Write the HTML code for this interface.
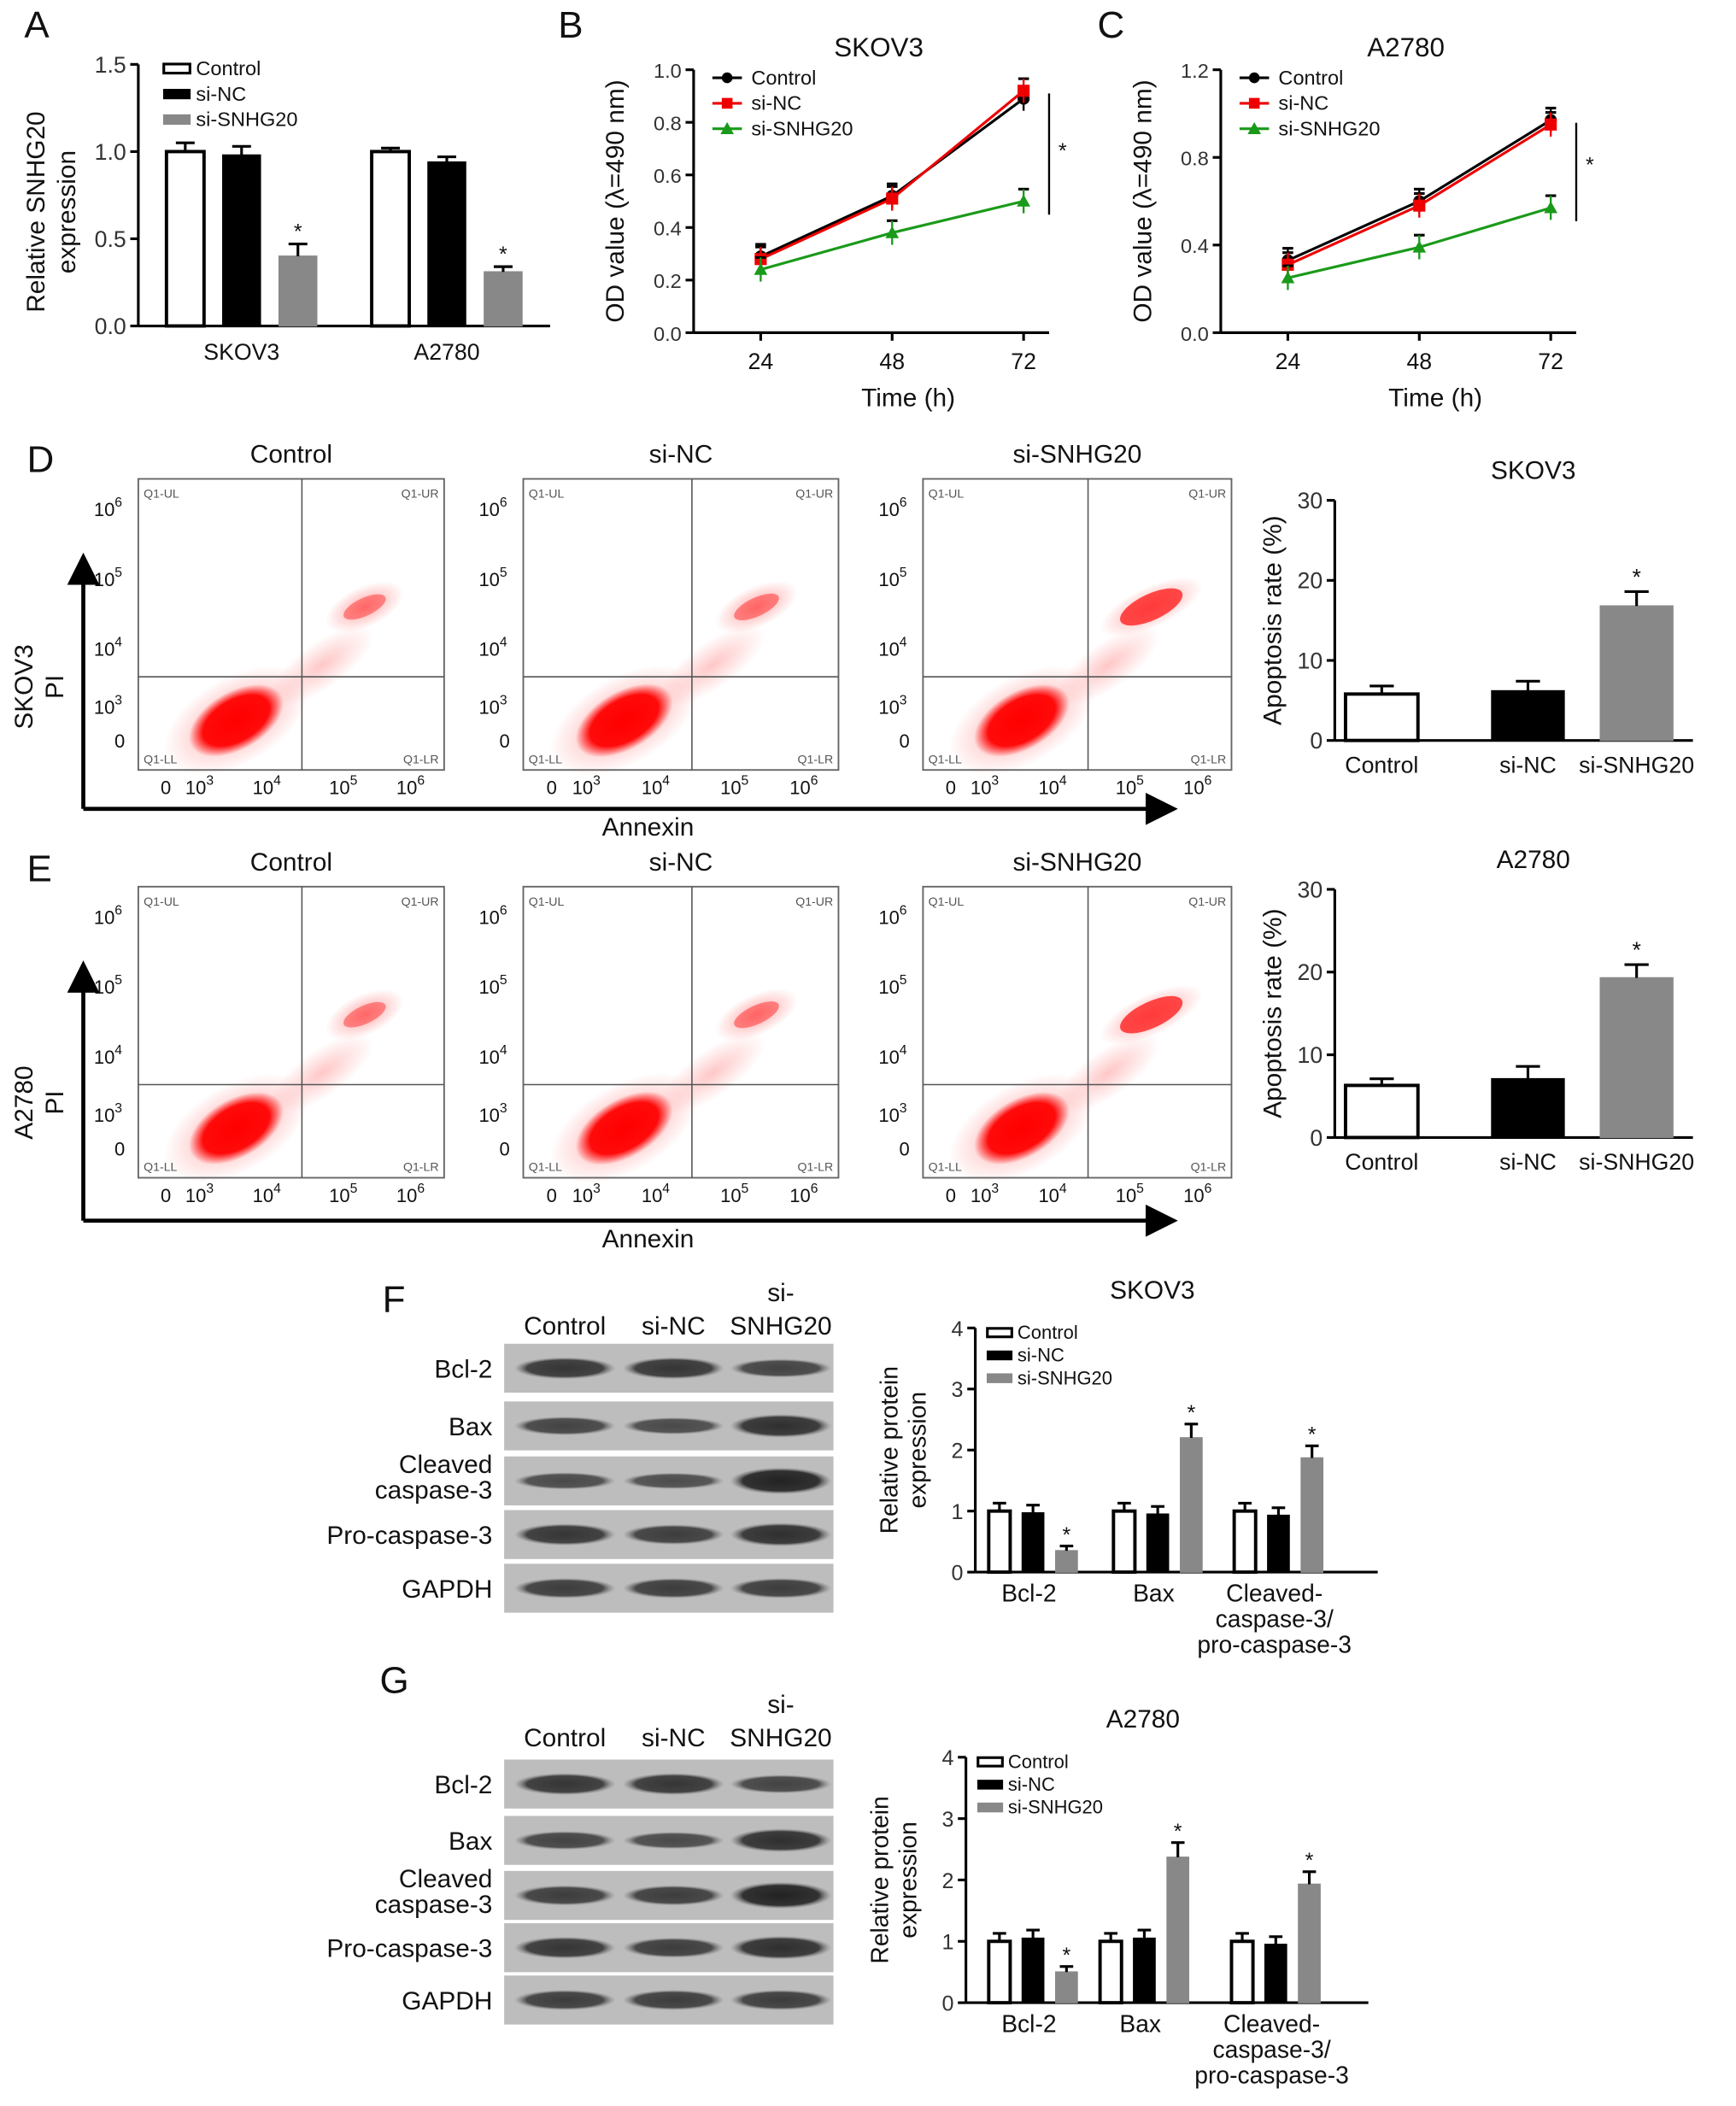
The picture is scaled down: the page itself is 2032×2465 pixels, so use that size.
<!DOCTYPE html>
<html><head><meta charset="utf-8"><style>
html,body{margin:0;padding:0;background:#fff;}
svg{display:block;font-family:"Liberation Sans",Arial,sans-serif;}
</style></head><body>
<svg id="fig" xmlns="http://www.w3.org/2000/svg" width="2032" height="2465" viewBox="0 0 1294 1570">
<defs>
<radialGradient id="blob" cx="50%" cy="50%" r="50%">
<stop offset="0%" stop-color="#ff0000" stop-opacity="1"/>
<stop offset="70%" stop-color="#ff0000" stop-opacity="0.95"/>
<stop offset="100%" stop-color="#ff0000" stop-opacity="0"/>
</radialGradient>
<radialGradient id="halo" cx="50%" cy="50%" r="50%">
<stop offset="0%" stop-color="#ff3030" stop-opacity="0.45"/>
<stop offset="100%" stop-color="#ff3030" stop-opacity="0"/>
</radialGradient>
<radialGradient id="band" cx="50%" cy="50%" r="50%">
<stop offset="0%" stop-color="#1a1a1a"/>
<stop offset="75%" stop-color="#2a2a2a"/>
<stop offset="100%" stop-color="#777" stop-opacity="0"/>
</radialGradient>
<marker id="arr" markerWidth="8" markerHeight="8" refX="6" refY="4" orient="auto"><path d="M0,0 L8,4 L0,8 z" fill="#000"/></marker>
</defs>
<g id="root"></g>
</svg>
<script>
// ---------- data ----------
const aGroups = ["SKOV3","A2780"];
const aControl = [1.0, 1.0];
const aSiNC = [0.98, 0.94];
const aSiSNHG = [0.40, 0.31];
const aErr = [[0.05,0.05,0.07],[0.02,0.03,0.03]];

const odTimes = [24,48,72];
const skovControl = [0.29,0.52,0.89];
const skovSiNC = [0.28,0.51,0.92];
const skovSi = [0.24,0.38,0.50];
const a27Control = [0.33,0.60,0.97];
const a27SiNC = [0.31,0.58,0.95];
const a27Si = [0.25,0.39,0.57];

const apopCats = ["Control","si-NC","si-SNHG20"];
const apopSkov = [5.8,6.2,16.8];
const apopSkovErr = [1.0,1.2,1.8];
const apopA27 = [6.3,7.1,19.3];
const apopA27Err = [0.8,1.5,1.6];

const protCats = ["Bcl-2","Bax","Cleaved-caspase-3/pro-caspase-3"];
const protSkovControl = [1.0,1.0,1.0];
const protSkovSiNC = [0.97,0.95,0.93];
const protSkovSi = [0.35,2.2,1.87];
const protA27Control = [1.0,1.0,1.0];
const protA27SiNC = [1.05,1.05,0.95];
const protA27Si = [0.5,2.37,1.93];

// ---------- helpers ----------
const NS="http://www.w3.org/2000/svg";
const root=document.getElementById('root');
function el(tag,attrs,parent,text){const e=document.createElementNS(NS,tag);for(const k in attrs)e.setAttribute(k,attrs[k]);if(text!==undefined)e.textContent=text;(parent||root).appendChild(e);return e;}
function txt(x,y,s,size,anchor,parent,extra){const t=el('text',Object.assign({x:x,y:y,'font-size':size,'text-anchor':anchor||'middle',fill:'#111'},extra||{}),parent,s);return t;}
function grp(name){const g=el('g',{});return g;}
function linear(d0,d1,r0,r1){return v=>r0+(v-d0)/(d1-d0)*(r1-r0);}

// ---------- panel letters ----------
const letters=[["A",18,28],["B",416,28],["C",818,28],["D",20,352],["E",20,657],["F",285,978],["G",283,1262]];
for(const [l,x,y] of letters){const t=txt(x,y,l,28,'start');}

function yAxis(g,x,y0,y1,ticks,fmt,size){
  el('line',{x1:x,y1:y0,x2:x,y2:y1,stroke:'#000','stroke-width':2},g);
  const ys=linear(ticks[0],ticks[ticks.length-1],y0,y1);
  for(const t of ticks){const y=ys(t);el('line',{x1:x-6,y1:y,x2:x,y2:y,stroke:'#000','stroke-width':2},g);txt(x-9,y+6,fmt(t),size,'end',g,{fill:'#333'});}
}
function bar(g,x,w,y,base,kind,name){
  const fills={c:'#fff',n:'#000',s:'#888'};
  const r=el('rect',{x:x,y:y,width:w,height:base-y,fill:fills[kind],stroke:kind==='s'?'#888':'#000','stroke-width':kind==='c'?2.5:1},g);
  
}
function errBar(g,cx,y,ye,hw){el('line',{x1:cx,y1:y,x2:cx,y2:ye,stroke:'#000','stroke-width':2},g);el('line',{x1:cx-hw,y1:ye,x2:cx+hw,y2:ye,stroke:'#000','stroke-width':2},g);}
function legend(g,x,y,dy,size,entries){
  entries.forEach((e,i)=>{const fills=['#fff','#000','#888'];
    const lg=el('g',{},g);
    el('rect',{x:x,y:y+i*dy-size*0.55,width:size*1.3,height:size*0.45,fill:fills[i],stroke:i===2?'#888':'#000','stroke-width':i===0?2:1},lg);
    txt(x+size*1.6,y+i*dy,e,size,'start',lg);});
}

// ---------- Panel A ----------
(function(){
  const g=grp('panel-a-chart');
  const y=linear(0,1.5,243,48);
  yAxis(g,103,243,48,[0,0.5,1.0,1.5],v=>v.toFixed(1),17);
  el('line',{x1:103,y1:243,x2:410,y2:243,stroke:'#000','stroke-width':2},g);
  const starts=[124,277];const w=28;
  aGroups.forEach((gn,i)=>{
    const vals=[aControl[i],aSiNC[i],aSiSNHG[i]];const kinds=['c','n','s'];
    vals.forEach((v,j)=>{const x=starts[i]+j*42;bar(g,x,w,y(v),243,kinds[j],'bar-'+gn.toLowerCase()+'-'+j);
      errBar(g,x+w/2,y(v),y(v+aErr[i][j]),7);
      if(j===2)txt(x+w/2,y(v+aErr[i][j])-4,'*',16,'middle',g);});
    txt(starts[i]+56,268,gn,17,'middle',g);
  });
  txt(0,0,'Relative SNHG20',19,'middle',g,{transform:'translate(33,158) rotate(-90)'});
  txt(0,0,'expression',19,'middle',g,{transform:'translate(56,158) rotate(-90)'});
  legend(g,122,56,19,15,['Control','si-NC','si-SNHG20']);
})();

// ---------- Panels B & C ----------
function linePanel(name,x0,title,ymax,ticks,ctrl,nc,si){
  const g=grp(name);
  const y=linear(0,ymax,248,52);
  const xs=t=>x0+50+(t-24)/24*98;
  yAxis(g,x0,248,52,ticks,v=>v.toFixed(1),15);
  el('line',{x1:x0,y1:248,x2:x0+265,y2:248,stroke:'#000','stroke-width':2},g);
  odTimes.forEach(t=>{el('line',{x1:xs(t),y1:248,x2:xs(t),y2:254,stroke:'#000','stroke-width':2},g);txt(xs(t),275,String(t),17,'middle',g);});
  txt(x0+138,42,title,20,'middle',g);
  txt(x0+160,303,'Time (h)',19,'middle',g);
  txt(0,0,'OD value (\u03bb=490 nm)',19,'middle',g,{transform:'translate('+(x0-52)+',150) rotate(-90)'});
  const series=[[ctrl,'#000','circle'],[nc,'#e00','square'],[si,'#1a9a1a','tri']];
  series.forEach(([vals,col,shape],si_)=>{
    const sg=el('g',{},g);
    const pts=vals.map((v,i)=>xs(odTimes[i])+','+y(v)).join(' ');
    el('polyline',{points:pts,fill:'none',stroke:col,'stroke-width':2},sg);
    vals.forEach((v,i)=>{const cx=xs(odTimes[i]),cy=y(v);
      errBar(sg,cx,cy-9,cy-9,4);el('line',{x1:cx,y1:cy-9,x2:cx,y2:cy+9,stroke:col,'stroke-width':1.5},sg);
      let m;
      if(shape==='circle')m=el('circle',{cx:cx,cy:cy,r:4.5,fill:col},sg);
      else if(shape==='square')m=el('rect',{x:cx-4.5,y:cy-4.5,width:9,height:9,fill:col},sg);
      else m=el('polygon',{points:(cx)+','+(cy-5)+' '+(cx-5)+','+(cy+4)+' '+(cx+5)+','+(cy+4),fill:col},sg);
      });
  });
  const ln=['Control','si-NC','si-SNHG20'];const cols=['#000','#e00','#1a9a1a'];
  ln.forEach((l,i)=>{const yy=58+i*19;const lg=el('g',{},g);
    el('line',{x1:x0+14,y1:yy,x2:x0+36,y2:yy,stroke:cols[i],'stroke-width':2},lg);
    if(i===0)el('circle',{cx:x0+25,cy:yy,r:4,fill:cols[i]},lg);else if(i===1)el('rect',{x:x0+21,y:yy-4,width:8,height:8,fill:cols[i]},lg);else el('polygon',{points:(x0+25)+','+(yy-5)+' '+(x0+20)+','+(yy+4)+' '+(x0+30)+','+(yy+4),fill:cols[i]},lg);
    txt(x0+43,yy+5,l,15,'start',lg);});
  el('line',{x1:x0+265,y1:y(Math.max(...ctrl,...nc))+2,x2:x0+265,y2:y(si[2])+10,stroke:'#000','stroke-width':1.5},g);
  txt(x0+272,y((Math.max(...ctrl)+si[2])/2)+6,'*',16,'start',g);
}
linePanel('panel-b-chart',517,'SKOV3',1.0,[0,0.2,0.4,0.6,0.8,1.0],skovControl,skovSiNC,skovSi);
linePanel('panel-c-chart',910,'A2780',1.2,[0,0.4,0.8,1.2],a27Control,a27SiNC,a27Si);

// ---------- Flow cytometry plots ----------
const boxX=[[103,331],[390,625],[688,918]];
function flowRow(name,top,bot,titles,intensity){
  const g=grp(name);
  boxX.forEach(([x0,x1],k)=>{
    const pg=el('g',{},g);
    const w=x1-x0,h=bot-top;
    txt((x0+x1)/2,top-12,titles[k],19,'middle',pg);
    const vx=x0+w*0.535,hy=top+h*0.68;
    const bx=x0+w*0.32,by=top+h*0.83;
    el('ellipse',{cx:bx,cy:by,rx:w*0.26,ry:h*0.15,fill:'url(#halo)',transform:'rotate(-30 '+bx+' '+by+')'},pg);
    el('ellipse',{cx:bx,cy:by,rx:w*0.17,ry:h*0.1,fill:'url(#blob)',transform:'rotate(-30 '+bx+' '+by+')'},pg);
    const ur=intensity[k];
    el('ellipse',{cx:x0+w*0.74,cy:top+h*0.44,rx:w*(0.12+ur*0.06),ry:h*0.07,fill:'url(#halo)',transform:'rotate(-25 '+(x0+w*0.74)+' '+(top+h*0.44)+')'},pg);
    el('ellipse',{cx:x0+w*0.74,cy:top+h*0.44,rx:w*(0.06+ur*0.05),ry:h*(0.025+ur*0.02),fill:'#ff2020','fill-opacity':0.3+ur*0.5,transform:'rotate(-25 '+(x0+w*0.74)+' '+(top+h*0.44)+')'},pg);
    el('ellipse',{cx:x0+w*0.6,cy:top+h*0.64,rx:w*0.2,ry:h*0.08,fill:'url(#halo)','fill-opacity':0.6,transform:'rotate(-35 '+(x0+w*0.6)+' '+(top+h*0.64)+')'},pg);
    el('rect',{x:x0,y:top,width:w,height:h,fill:'none',stroke:'#666','stroke-width':1.2},pg);
    el('line',{x1:vx,y1:top,x2:vx,y2:bot,stroke:'#555','stroke-width':1},pg);
    el('line',{x1:x0,y1:hy,x2:x1,y2:hy,stroke:'#555','stroke-width':1},pg);
    txt(x0+4,top+14,'Q1-UL',9,'start',pg,{fill:'#555'});txt(x1-4,top+14,'Q1-UR',9,'end',pg,{fill:'#555'});
    txt(x0+4,bot-5,'Q1-LL',9,'start',pg,{fill:'#555'});txt(x1-4,bot-5,'Q1-LR',9,'end',pg,{fill:'#555'});
    const yl=[['0',0.9],['10','3',0.78],['10','4',0.58],['10','5',0.34],['10','6',0.1]];
    yl.forEach(a=>{if(a.length===2){txt(x0-10,top+h*a[1]+5,a[0],14,'end',pg);}else{const t=txt(x0-12,top+h*a[2]+6,a[0],14,'end',pg);el('tspan',{dy:-7,'font-size':10},t,a[1]);}});
    const xl=[['0',0.09],['10','3',0.2],['10','4',0.42],['10','5',0.67],['10','6',0.89]];
    xl.forEach(a=>{if(a.length===2){txt(x0+w*a[1],bot+18,a[0],14,'middle',pg);}else{const t=txt(x0+w*a[2],bot+18,a[0],14,'middle',pg);el('tspan',{dy:-7,'font-size':10},t,a[1]);}});
  });
}
flowRow('panel-d-flow',357,574,['Control','si-NC','si-SNHG20'],[0.3,0.35,1.0]);
flowRow('panel-e-flow',661,878,['Control','si-NC','si-SNHG20'],[0.3,0.35,1.0]);
function axesArrows(name,yTop,yAx,label1,labelY){
  const g=grp(name);
  el('line',{x1:62,y1:yAx,x2:62,y2:yTop,stroke:'#000','stroke-width':3,'marker-end':'url(#arr)'},g);
  el('line',{x1:62,y1:yAx,x2:872,y2:yAx,stroke:'#000','stroke-width':3,'marker-end':'url(#arr)'},g);
  txt(483,yAx+20,'Annexin',19,'middle',g);
  txt(0,0,label1,19,'middle',g,{transform:'translate(24,'+labelY+') rotate(-90)'});
  txt(0,0,'PI',19,'middle',g,{transform:'translate(47,'+labelY+') rotate(-90)'});
}
axesArrows('panel-d-axes',418,603,'SKOV3',512);
axesArrows('panel-e-axes',722,910,'A2780',822);

// ---------- Apoptosis bar charts ----------
function apopChart(name,title,top,base,vals,errs){
  const g=grp(name);
  const y=linear(0,30,base,top);
  yAxis(g,995,base,top,[0,10,20,30],v=>String(v),17);
  el('line',{x1:995,y1:base,x2:1262,y2:base,stroke:'#000','stroke-width':2},g);
  const xs=[1003,1112,1193];const kinds=['c','n','s'];const ws=[54,54,54];
  vals.forEach((v,i)=>{bar(g,xs[i],ws[i],y(v),base,kinds[i],'bar-'+apopCats[i].toLowerCase());errBar(g,xs[i]+ws[i]/2,y(v),y(v+errs[i]),9);
    txt(xs[i]+ws[i]/2,base+24,apopCats[i],17,'middle',g);});
  txt(1220,y(vals[2]+errs[2])-5,'*',17,'middle',g);
  txt(1143,top-16,title,19,'middle',g);
  txt(0,0,'Apoptosis rate (%)',19,'middle',g,{transform:'translate(955,'+((top+base)/2)+') rotate(-90)'});
}
apopChart('panel-d-bars','SKOV3',373,552,apopSkov,apopSkovErr);
apopChart('panel-e-bars','A2780',663,848,apopA27,apopA27Err);

// ---------- Western blots ----------
function blot(name,top,rowsY,rowLabels,headerY,intens){
  const g=grp(name);
  const colX=[421,502,582];
  txt(colX[0],headerY,'Control',19,'middle',g);txt(colX[1],headerY,'si-NC',19,'middle',g);
  txt(colX[2],headerY-25,'si-',19,'middle',g);txt(colX[2],headerY,'SNHG20',19,'middle',g);
  rowsY.forEach((ry,i)=>{
    const rg=el('g',{},g);
    el('rect',{x:375,y:ry-19,width:247,height:38,fill:'#bdbdbd'},rg);
    el('rect',{x:375,y:ry-19,width:247,height:38,fill:'none',stroke:'#fff','stroke-width':1.5},rg);
    colX.forEach((cx,j)=>{const t=intens[i][j];el('ellipse',{cx:cx,cy:ry,rx:38,ry:4+t*6,fill:'url(#band)','fill-opacity':0.55+t*0.4},rg);});
    const lab=rowLabels[i];
    if(Array.isArray(lab)){txt(367,ry-6,lab[0],19,'end',rg);txt(367,ry+13,lab[1],19,'end',rg);}else txt(367,ry+7,lab,19,'end',rg);
  });
}
const rl=['Bcl-2','Bax',['Cleaved','caspase-3'],'Pro-caspase-3','GAPDH'];
blot('panel-f-blot',997,[1020,1063,1104,1144,1184],rl,995,[[0.7,0.7,0.5],[0.5,0.4,0.8],[0.4,0.35,1.0],[0.7,0.6,0.8],[0.6,0.6,0.6]]);
blot('panel-g-blot',1308,[1330,1372,1413,1452,1491],rl,1302,[[0.7,0.7,0.5],[0.5,0.4,0.8],[0.6,0.6,1.0],[0.7,0.6,0.8],[0.6,0.6,0.6]]);

// ---------- Protein bar charts ----------
function protChart(name,title,x0,top,base,ctrl,nc,si,gx){
  const g=grp(name);
  const y=linear(0,4,base,top);
  yAxis(g,x0,base,top,[0,1,2,3,4],v=>String(v),16);
  el('line',{x1:x0,y1:base,x2:x0+300,y2:base,stroke:'#000','stroke-width':2},g);
  const kinds=['c','n','s'];
  protCats.forEach((c,i)=>{
    const vals=[ctrl[i],nc[i],si[i]];
    vals.forEach((v,j)=>{const x=gx[i]+j*25-30;const e=v*0.08+0.05;bar(g,x,16,y(v),base,kinds[j],'bar-'+c.split('/')[0].toLowerCase()+'-'+j);errBar(g,x+8,y(v),y(v+e),5);
      if(j===2)txt(x+8,y(v+e)-3,'*',16,'middle',g);});
  });
  txt(gx[0],base+22,'Bcl-2',18,'middle',g);txt(gx[1],base+22,'Bax',18,'middle',g);
  txt(gx[2],base+22,'Cleaved-',18,'middle',g);txt(gx[2],base+41,'caspase-3/',18,'middle',g);txt(gx[2],base+60,'pro-caspase-3',18,'middle',g);
  txt(x0+132,top-22,title,19,'middle',g);
  txt(0,0,'Relative protein',18,'middle',g,{transform:'translate('+(x0-58)+','+((top+base)/2)+') rotate(-90)'});
  txt(0,0,'expression',18,'middle',g,{transform:'translate('+(x0-37)+','+((top+base)/2)+') rotate(-90)'});
  legend(g,x0+9,top+8,17,14,['Control','si-NC','si-SNHG20']);
}
protChart('panel-f-bars','SKOV3',727,990,1172,protSkovControl,protSkovSiNC,protSkovSi,[767,860,950]);
protChart('panel-g-bars','A2780',720,1310,1493,protA27Control,protA27SiNC,protA27Si,[767,850,948]);
</script>
</body></html>
